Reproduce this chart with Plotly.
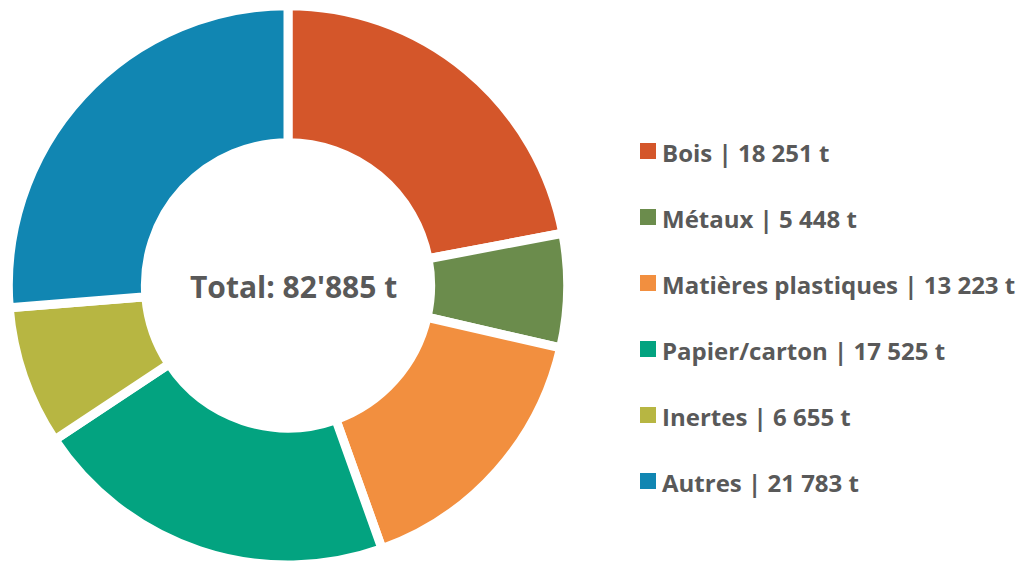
import plotly.graph_objects as go

categories = ["Bois", "Métaux", "Matières plastiques", "Papier/carton", "Inertes", "Autres"]
values = [18251, 5448, 13223, 17525, 6655, 21783]
colors = ["#D4562A", "#6B8C4C", "#F28F3F", "#03A380", "#B7B642", "#1186B2"]
total_label = "Total: 82'885 t"

W, H = 1036, 565

def fmt(v):
    return f"{v:,}".replace(",", " ")

fig = go.Figure(go.Pie(
    labels=categories,
    values=values,
    marker=dict(colors=colors, line=dict(color="white", width=9)),
    hole=0.51,
    sort=False,
    direction="clockwise",
    rotation=0,
    textinfo="none",
    hoverinfo="label+value",
    domain=dict(x=[0, 0.556], y=[0, 0.99]),
    showlegend=False,
))

font_family = "'Open Sans', Roboto, sans-serif"
gray = "#595959"

fig.add_annotation(
    x=293 / W, y=1 - 286 / H, xref="paper", yref="paper",
    text=f"<b>{total_label}</b>", showarrow=False,
    font=dict(family=font_family, size=30, color=gray),
    xanchor="center", yanchor="middle",
)

# legend built from the data arrays
y0, dy = 151, 66
for i, (cat, val, col) in enumerate(zip(categories, values, colors)):
    yc = y0 + i * dy
    fig.add_shape(
        type="rect", xref="paper", yref="paper",
        x0=640 / W, x1=656 / W, y0=1 - (yc + 8) / H, y1=1 - (yc - 8) / H,
        fillcolor=col, line=dict(width=0),
    )
    fig.add_annotation(
        x=660 / W, y=1 - (yc + 1) / H, xref="paper", yref="paper",
        text=f"<b>{cat} | {fmt(val)} t</b>", showarrow=False,
        font=dict(family=font_family, size=24, color=gray),
        xanchor="left", yanchor="middle",
    )

fig.update_layout(
    width=W, height=H,
    margin=dict(l=0, r=0, t=0, b=0),
    paper_bgcolor="white", plot_bgcolor="white",
)

fig.write_html("out.html", config={"displayModeBar": False},
               post_script="document.body.style.margin='0';")
